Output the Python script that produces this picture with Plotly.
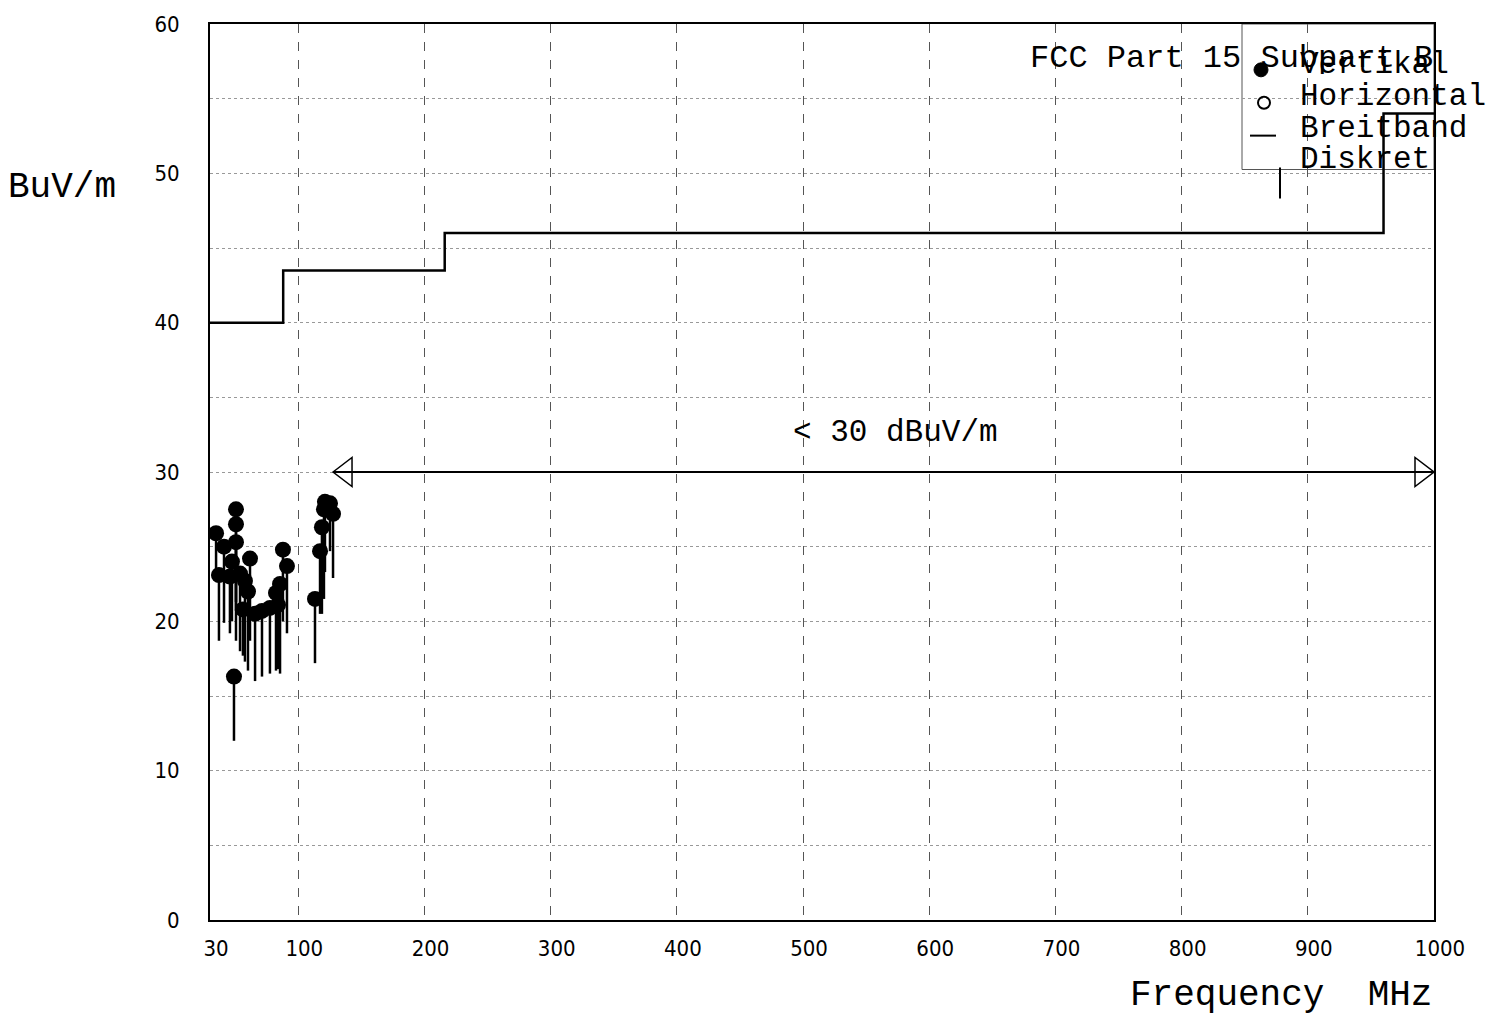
import plotly.graph_objects as go

# ---------------- data ----------------
# Vertikal measurements: frequency (MHz), peak level (dBuV/m), lower end of stem (dBuV/m)
vert_freq = [34.8, 37.1, 41.1, 45.8, 50.6, 50.6, 50.6, 49.0, 47.4, 53.8, 57.7, 61.7, 60.1, 56.1,
             65.7, 71.2, 77.5, 82.3, 85.5, 87.8, 91.0, 83.9,
             113.2, 117.2, 118.7, 120.3, 121.1, 125.1, 127.5]
vert_level = [25.9, 23.1, 25.0, 23.0, 27.5, 26.5, 25.3, 16.3, 24.0, 23.2, 22.7, 24.2, 22.0, 20.8,
              20.5, 20.7, 20.9, 21.9, 22.5, 24.8, 23.7, 21.1,
              21.5, 24.7, 26.3, 27.5, 28.0, 27.9, 27.2]
vert_low = [22.7, 18.7, 19.9, 19.2, 18.7, 20.7, 21.3, 12.0, 20.0, 18.0, 17.3, 18.7, 16.7, 17.7,
            16.0, 16.3, 16.5, 16.7, 16.5, 20.0, 19.2, 16.8,
            17.2, 20.5, 20.5, 21.5, 23.3, 24.7, 22.9]

# FCC Part 15 class B limit (Breitband)
limit_freq = [30, 88, 216, 960, 1000]
limit_level = [40, 43.5, 46, 54, 54]

# "< 30 dBuV/m" range arrow
arrow_start = 127.5
arrow_end = 1000
arrow_level = 30

x_tickvals = [30, 100, 200, 300, 400, 500, 600, 700, 800, 900, 1000]
x_ticktext = [str(v) for v in x_tickvals]
y_tickvals = [0, 10, 20, 30, 40, 50, 60]

legend_labels = ["Vertikal", "Horizontal", "Breitband", "Diskret"]

# ---------------- figure ----------------
MONO = "Liberation Mono, Courier New, monospace"
NUM = "Liberation Sans Narrow, DejaVu Sans Condensed, Arial Narrow, Liberation Sans, sans-serif"

fig = go.Figure()

# stems
stem_x, stem_y = [], []
for f, hi, lo in zip(vert_freq, vert_level, vert_low):
    stem_x += [f, f, None]
    stem_y += [hi, lo, None]
fig.add_trace(go.Scatter(x=stem_x, y=stem_y, mode="lines",
                         line=dict(color="black", width=2.5),
                         showlegend=False, hoverinfo="skip", name="Diskret"))
# markers
fig.add_trace(go.Scatter(x=vert_freq, y=vert_level, mode="markers",
                         marker=dict(color="black", size=16, line=dict(width=0)),
                         showlegend=False, name="Vertikal"))
# limit line
fig.add_trace(go.Scatter(x=limit_freq, y=limit_level, mode="lines",
                         line=dict(color="black", width=2.5, shape="hv"),
                         showlegend=False, name="Breitband"))
# arrow line
fig.add_trace(go.Scatter(x=[arrow_start, arrow_end], y=[arrow_level, arrow_level], mode="lines",
                         line=dict(color="black", width=2),
                         showlegend=False, hoverinfo="skip"))

shapes = []
# open arrowheads (pixel-sized triangles anchored at the data ends)
shapes.append(dict(type="path", xref="x", yref="y", xsizemode="pixel", ysizemode="pixel",
                   xanchor=arrow_start, yanchor=arrow_level,
                   path="M0,0 L19,14.5 L19,-14.5 Z", line=dict(color="black", width=1.5)))
shapes.append(dict(type="path", xref="x", yref="y", xsizemode="pixel", ysizemode="pixel",
                   xanchor=arrow_end, yanchor=arrow_level,
                   path="M0,0 L-19,14.5 L-19,-14.5 Z", line=dict(color="black", width=1.5)))

# legend box
L, B, R, T = 210, 920, 1434, 21
W, H = R - L, B - T
def px(x):
    return (x - L) / W
def py(y):
    return (B - y) / H

shapes.append(dict(type="rect", xref="paper", yref="paper", layer="between",
                   x0=px(1242), x1=1.0, y0=py(167), y1=1.0,
                   fillcolor="white", line=dict(color="#555", width=1)))
# legend symbols
shapes.append(dict(type="circle", xref="paper", yref="paper",
                   x0=px(1254), x1=px(1268), y0=py(74), y1=py(60),
                   fillcolor="black", line=dict(color="black", width=1)))
shapes.append(dict(type="circle", xref="paper", yref="paper",
                   x0=px(1258), x1=px(1270), y0=py(106), y1=py(94),
                   line=dict(color="black", width=2)))
shapes.append(dict(type="line", xref="paper", yref="paper",
                   x0=px(1250), x1=px(1276), y0=py(133), y1=py(133),
                   line=dict(color="black", width=2)))
shapes.append(dict(type="line", xref="paper", yref="paper",
                   x0=px(1280), x1=px(1280), y0=py(165), y1=py(196),
                   line=dict(color="black", width=2)))

annotations = []
for lab, yc in zip(legend_labels, [62, 94, 126, 157]):
    annotations.append(dict(text=lab, xref="paper", yref="paper", x=px(1298), y=py(yc),
                            xanchor="left", yanchor="middle", showarrow=False,
                            font=dict(family=MONO, size=31, color="black")))
annotations.append(dict(text="FCC Part 15 Subpart B", xref="paper", yref="paper",
                        x=px(1028), y=py(56), xanchor="left", yanchor="middle", showarrow=False,
                        font=dict(family=MONO, size=32, color="black")))
annotations.append(dict(text="< 30 dBuV/m", xref="paper", yref="paper",
                        x=px(895), y=py(431), xanchor="center", yanchor="middle", showarrow=False,
                        font=dict(family=MONO, size=31, color="black")))
annotations.append(dict(text="BuV/m", xref="paper", yref="paper",
                        x=px(6), y=py(185), xanchor="left", yanchor="middle", showarrow=False,
                        font=dict(family=MONO, size=36, color="black")))
annotations.append(dict(text="Frequency  MHz", xref="paper", yref="paper",
                        x=px(1434), y=py(996), xanchor="right", yanchor="middle", showarrow=False,
                        font=dict(family=MONO, size=36, color="black")))

fig.update_layout(
    width=1502, height=1021,
    margin=dict(l=L, r=1502 - R, t=T, b=1021 - B, pad=0),
    paper_bgcolor="white", plot_bgcolor="white",
    showlegend=False,
    shapes=shapes, annotations=annotations,
    xaxis=dict(range=[30, 1000], tickvals=x_tickvals, ticktext=x_ticktext,
               showline=True, mirror=True, linecolor="black", linewidth=2,
               showgrid=True, gridcolor="#555", gridwidth=1, griddash="dash",
               ticks="", ticklabelstandoff=8, ticklabelshift=6,
               tickfont=dict(family=NUM, size=22, color="black"), zeroline=False),
    yaxis=dict(range=[0, 60], tickvals=y_tickvals,
               showline=True, mirror=True, linecolor="black", linewidth=2,
               showgrid=True, gridcolor="#999", gridwidth=1, griddash="dot",
               minor=dict(dtick=5, showgrid=True, gridcolor="#999", gridwidth=1, griddash="dot", ticks=""),
               ticks="", ticklabelstandoff=24,
               tickfont=dict(family=NUM, size=22, color="black"), zeroline=False),
)

fig.write_html("out.html")
